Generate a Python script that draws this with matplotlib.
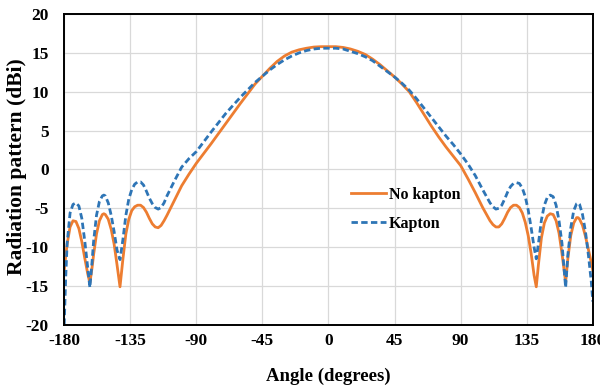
import matplotlib
matplotlib.use('Agg')
import matplotlib.pyplot as plt

# angles (degrees) and gains (dBi)
ang_left = [-180, -179, -178, -176, -174, -172, -170, -168, -166, -164,
            -162.5, -161, -160, -158, -156, -154, -153, -152, -150, -148,
            -146, -144, -142, -140, -138, -136, -134, -132, -130, -128,
            -126, -124, -122, -120, -118, -116, -114, -112, -110, -105,
            -100, -95, -90, -80, -70, -60, -50, -45, -40, -35,
            -30, -25, -20, -15, -10, -5, 0]
ang_right = [5, 10, 15, 20, 25, 30, 35, 40, 45, 50,
             55, 60, 65, 70, 75, 80, 85, 90, 95, 100,
             105, 110, 112, 114, 116, 118, 120, 122, 124, 126,
             128, 130, 132, 134, 136, 138, 140, 141.5, 143, 145,
             147, 149, 151, 153, 155, 157, 159, 161.5, 163, 165,
             167, 169, 170, 171, 173, 175, 177, 179, 180]

no_kapton_left = [-13.0, -11.2, -9.6, -7.4, -6.6, -6.7, -7.6, -9.3, -11.4, -13.4,
                  -14.6, -12.6, -11.0, -8.3, -6.6, -5.8, -5.7, -5.8, -6.4, -7.7,
                  -9.6, -12.3, -15.1, -11.5, -8.3, -6.4, -5.3, -4.8, -4.6, -4.6,
                  -4.9, -5.5, -6.3, -7.0, -7.4, -7.5, -7.2, -6.6, -5.9, -4.0,
                  -2.1, -0.6, 0.8, 3.3, 5.9, 8.5, 11.0, 12.0, 13.0, 13.9,
                  14.6, 15.1, 15.4, 15.6, 15.75, 15.8, 15.8]
no_kapton_right = [15.8, 15.7, 15.5, 15.2, 14.8, 14.2, 13.5, 12.7, 11.9, 11.0,
                   10.0, 8.6, 7.1, 5.6, 4.2, 2.9, 1.7, 0.5, -1.2, -3.0,
                   -4.9, -6.6, -7.1, -7.4, -7.4, -7.0, -6.3, -5.5, -4.9, -4.6,
                   -4.6, -4.9, -5.6, -6.8, -8.5, -10.8, -13.6, -15.1, -12.2, -8.8,
                   -6.9, -6.0, -5.7, -5.8, -6.6, -8.2, -10.8, -14.5, -11.5, -8.5,
                   -6.9, -6.2, -6.2, -6.4, -7.2, -8.6, -10.3, -12.0, -13.0]

kapton_left = [-20.0, -14.0, -9.5, -5.6, -4.5, -4.3, -4.7, -6.3, -9.2, -12.6,
               -15.2, -11.8, -9.3, -5.9, -4.1, -3.4, -3.3, -3.4, -4.3, -5.9,
               -8.0, -10.4, -11.6, -9.0, -5.9, -3.8, -2.6, -1.9, -1.6, -1.6,
               -2.0, -2.8, -3.7, -4.4, -4.9, -5.1, -4.9, -4.3, -3.4, -1.5,
               0.3, 1.4, 2.3, 4.8, 7.2, 9.3, 11.2, 12.0, 12.8, 13.5,
               14.1, 14.6, 15.0, 15.3, 15.5, 15.6, 15.6]
kapton_right = [15.6, 15.5, 15.2, 14.9, 14.5, 14.0, 13.3, 12.6, 11.9, 11.1,
                10.2, 9.1, 7.9, 6.7, 5.5, 4.3, 3.2, 2.0, 0.7, -0.8,
                -2.6, -4.3, -4.8, -5.1, -5.0, -4.6, -3.8, -2.9, -2.2, -1.8,
                -1.7, -1.8, -2.4, -3.5, -5.2, -7.5, -10.0, -11.5, -9.5, -6.5,
                -4.6, -3.6, -3.3, -3.5, -4.6, -6.6, -9.5, -15.2, -11.0, -7.5,
                -5.3, -4.4, -4.3, -4.5, -5.8, -8.0, -11.0, -14.5, -17.0]

angles = ang_left + ang_right
no_kapton = no_kapton_left + no_kapton_right
kapton = kapton_left + kapton_right

xticks = [-180, -135, -90, -45, 0, 45, 90, 135, 180]
yticks = [-20, -15, -10, -5, 0, 5, 10, 15, 20]

plt.rcParams['font.family'] = ['Liberation Serif', 'DejaVu Serif']
plt.rcParams['font.weight'] = 'bold'
plt.rcParams['axes.unicode_minus'] = False

fig = plt.figure(figsize=(6, 3.9), dpi=100)
ax = fig.add_axes([0.107, 0.167, 0.881, 0.797])

ax.plot(angles, no_kapton, color='#ED7D31', linewidth=2.0, label='No kapton')
ax.plot(angles, kapton, color='#2E75B6', linewidth=2.0, dashes=(2.3, 1.2),
        label='Kapton')

ax.set_xlim(-180, 180)
ax.set_ylim(-20, 20)
ax.set_xticks(xticks)
ax.set_yticks(yticks)
ax.tick_params(length=0, labelsize=12.5)
ax.tick_params(axis='x', pad=6)
ax.tick_params(axis='y', pad=11)
for lab in ax.get_xticklabels() + ax.get_yticklabels():
    lab.set_fontweight('bold')
ax.grid(True, color='#d9d9d9', linewidth=0.9)
ax.set_axisbelow(True)
for sp in ax.spines.values():
    sp.set_linewidth(1.4)
    sp.set_color('black')

ax.set_xlabel('Angle (degrees)', fontsize=13.5, fontweight='bold')
ax.set_ylabel('Radiation pattern (dBi)', fontsize=15.5, fontweight='bold')
ax.xaxis.set_label_coords(0.5, -0.137)
ax.yaxis.set_label_coords(-0.07, 0.51)

leg = ax.legend(loc='upper left', bbox_to_anchor=(0.515, 0.49), frameon=False,
                fontsize=11.5, handlelength=2.2, handletextpad=0.2, labelspacing=0.8)
for t in leg.get_texts():
    t.set_fontweight('bold')

fig.savefig('out.png', dpi=100)
